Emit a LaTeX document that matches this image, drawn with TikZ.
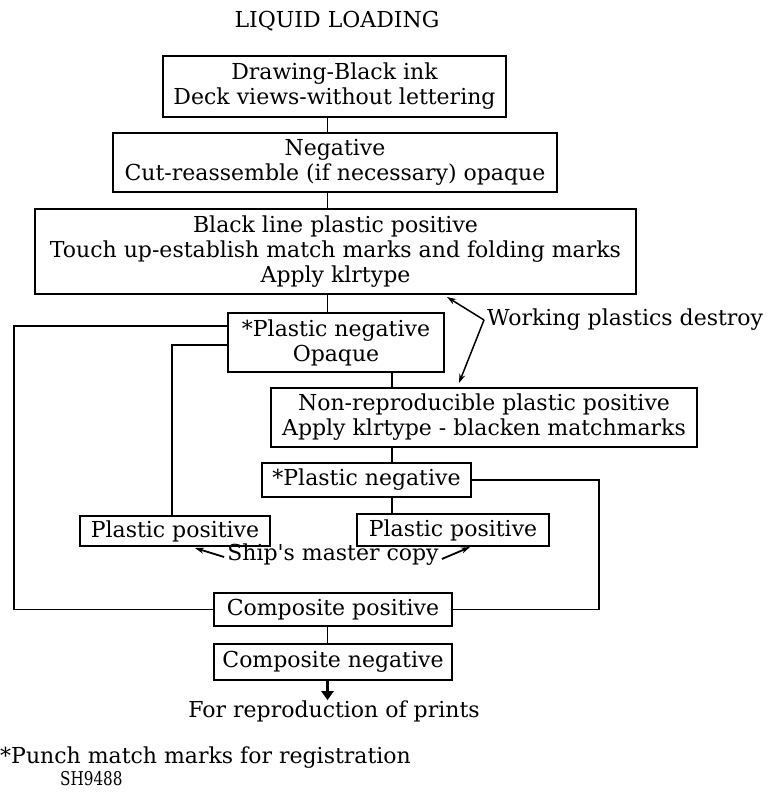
\documentclass[tikz,border=0pt]{standalone}
\usepackage{fontspec}
\setmainfont{DejaVu Serif}
\usetikzlibrary{arrows.meta}
\begin{document}
\begin{tikzpicture}[x=1pt,y=-1pt,
  txt/.style={font=\fontsize{22}{25}\selectfont},
  box/.style={txt,draw,line width=1.6pt,inner sep=0pt,align=center},
  link/.style={line width=1.6pt},
  lbl/.style={txt,inner sep=0pt},
  pointer/.style={line width=1.5pt,-{Stealth[length=9pt,width=6pt]}}]
\useasboundingbox (0,0) rectangle (781,792);

% heading
\node[lbl] (title) at (337,21) {LIQUID LOADING};

% main column of process steps
\node[box,minimum width=343pt,minimum height=61pt] (B1) at (334.5,86.5)
  {Drawing-Black ink\\Deck views-without lettering};
\node[box,minimum width=444pt,minimum height=59pt] (B2) at (335,162.5)
  {Negative\\Cut-reassemble (if necessary) opaque};
\node[box,minimum width=601pt,minimum height=85pt] (B3) at (335.5,251.5)
  {Black line plastic positive\\Touch up-establish match marks and folding marks\\Apply klrtype};
\node[box,minimum width=216pt,minimum height=59pt] (PN1) at (336,342.5)
  {*Plastic negative\\Opaque};
\node[box,minimum width=426pt,minimum height=59pt] (NR) at (484,417.5)
  {Non-reproducible plastic positive\\Apply klrtype - blacken matchmarks};
\node[box,minimum width=209pt,minimum height=34pt] (PN2) at (366.5,480)
  {*Plastic negative};
\node[box,minimum width=190pt,minimum height=30pt] (PP1) at (175,531)
  {Plastic positive};
\node[box,minimum width=192pt,minimum height=32pt] (PP2) at (453,530)
  {Plastic positive};
\node[box,minimum width=238pt,minimum height=33pt] (CP) at (333,609.5)
  {Composite positive};
\node[box,minimum width=238pt,minimum height=36pt] (CN) at (333,662)
  {Composite negative};

% side notes
\node[lbl,anchor=west] (WP) at (487,320) {Working plastics destroy};
\node[lbl] (SM) at (333,555) {Ship\textquotesingle s master copy};
\node[lbl] (REP) at (334,711) {For reproduction of prints};
\node[lbl,anchor=west] (NOTE) at (0,758) {*Punch match marks for registration};
\node[inner sep=0pt,anchor=west,font=\fontsize{19}{21}\selectfont] (CODE) at (60,779)
  {\scalebox{0.8}[1]{SH9488}};

% vertical spines
\coordinate (s1) at (327.5,0);
\coordinate (s2) at (392,0);

\draw[link] (s1 |- B1.south) -- (s1 |- B2.north);
\draw[link] (s1 |- B2.south) -- (s1 |- B3.north);
\draw[link] (s1 |- B3.south) -- (s1 |- PN1.north);
\draw[link] (s2 |- PN1.south) -- (s2 |- NR.north);
\draw[link] (s2 |- NR.south) -- (s2 |- PN2.north);
\draw[link] (s2 |- PN2.south) -- (s2 |- PP2.north);
\draw[link] (s1 |- CP.south) -- (s1 |- CN.north);

% side branches
\draw[link] ([yshift=-14pt]PN1.north west) -- ++(-213,0) |- (CP.west);
\draw[link] ([yshift=-33pt]PN1.north west) -| ([xshift=-3pt]PP1.north);
\draw[link] (PN2.east) -- ++(127,0) |- (CP.east);

% output arrow
\draw[line width=3pt,-{Triangle[length=9pt,width=12pt]}] (s1 |- CN.south) -- (s1 |- REP.north);

% pointers of the side notes
\coordinate (wv) at (484,320);
\coordinate (wt1) at (447,297);
\coordinate (wt2) at (459,383);
\draw[pointer] (wv) -- (wt1);
\draw[pointer] (wv) -- (wt2);

\coordinate (st1) at (195,548);
\coordinate (st2) at (470,547);
\draw[pointer,line width=1.8pt] ([xshift=-3pt,yshift=-2pt]SM.west) -- (st1);
\draw[pointer,line width=1.8pt] ([xshift=3pt,yshift=-4pt]SM.east) -- (st2);
\end{tikzpicture}
\end{document}
